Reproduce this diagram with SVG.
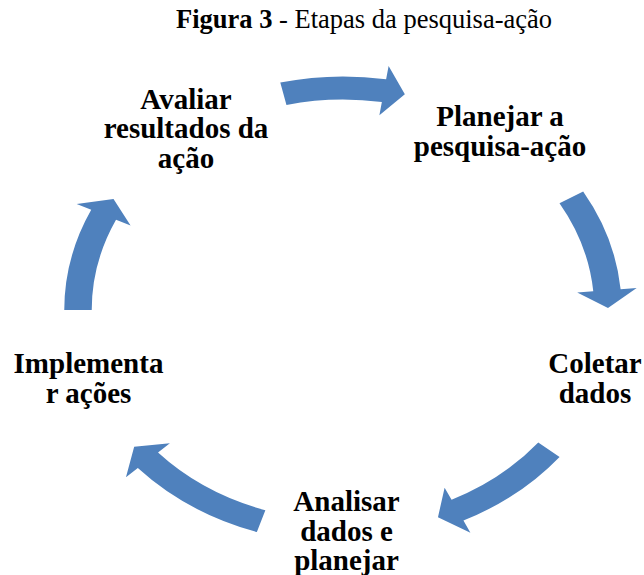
<svg xmlns="http://www.w3.org/2000/svg" width="644" height="575" viewBox="0 0 644 575">
<style>
.arrow{fill:#4F81BD;stroke:none}
.lbl{font-family:"Liberation Serif","Times New Roman",serif;font-weight:bold;font-size:29px;fill:#000;text-anchor:middle}
.title{font-family:"Liberation Serif","Times New Roman",serif;font-size:26.5px;fill:#000;text-anchor:middle}
</style>
<rect width="644" height="575" fill="#fff"/>
<text class="title" x="364" y="28"><tspan font-weight="bold">Figura 3</tspan> - Etapas da pesquisa-ação</text>
<g id="connectors" transform="translate(343,310) scale(1.1937,1)">
<path id="a1" class="arrow" d="M-52.54,-227.52 A233.5,233.5 0 0 1 36.12,-230.70 L38.21,-244.04 L51.81,-215.87 L30.48,-194.64 L32.56,-207.97 A210.5,210.5 0 0 0 -47.36,-205.11 Z"/>
<path id="a2" class="arrow" d="M201.18,-118.50 A233.5,233.5 0 0 1 232.57,-20.76 L246.01,-21.96 L221.99,-1.94 L196.21,-17.51 L209.66,-18.71 A210.5,210.5 0 0 0 181.37,-106.83 Z"/>
<path id="a3" class="arrow" d="M181.45,146.94 A233.5,233.5 0 0 1 100.90,210.57 L106.73,222.74 L79.56,207.26 L85.12,177.65 L90.96,189.83 A210.5,210.5 0 0 0 163.58,132.47 Z"/>
<path id="a4" class="arrow" d="M-72.15,222.08 A233.5,233.5 0 0 1 -171.88,158.06 L-181.82,167.19 L-174.94,136.69 L-145.01,133.35 L-154.95,142.49 A210.5,210.5 0 0 0 -65.04,200.21 Z"/>
<path id="a5" class="arrow" d="M-233.5,0 A233.5,233.5 0 0 1 -210.92,-100.15 L-223.12,-105.94 L-192.25,-111 L-177.95,-84.49 L-190.14,-90.28 A210.5,210.5 0 0 0 -210.5,0 Z"/>
</g>
<g id="node-planejar"><text class="lbl" x="500" y="126"><tspan x="500">Planejar a</tspan><tspan x="500" dy="29.5">pesquisa-ação</tspan></text></g>
<g id="node-coletar"><text class="lbl" x="595" y="373"><tspan x="595">Coletar</tspan><tspan x="595" dy="29.5">dados</tspan></text></g>
<g id="node-analisar"><text class="lbl" x="346.5" y="511"><tspan x="346.5">Analisar</tspan><tspan x="346.5" dy="29.5">dados e</tspan><tspan x="346.5" dy="29.5">planejar</tspan></text></g>
<g id="node-implementar"><text class="lbl" x="88.5" y="373"><tspan x="88.5">Implementa</tspan><tspan x="88.5" dy="29.5">r ações</tspan></text></g>
<g id="node-avaliar"><text class="lbl" x="186" y="108.5"><tspan x="186">Avaliar</tspan><tspan x="186" dy="29.5">resultados da</tspan><tspan x="186" dy="29.5">ação</tspan></text></g>
</svg>
